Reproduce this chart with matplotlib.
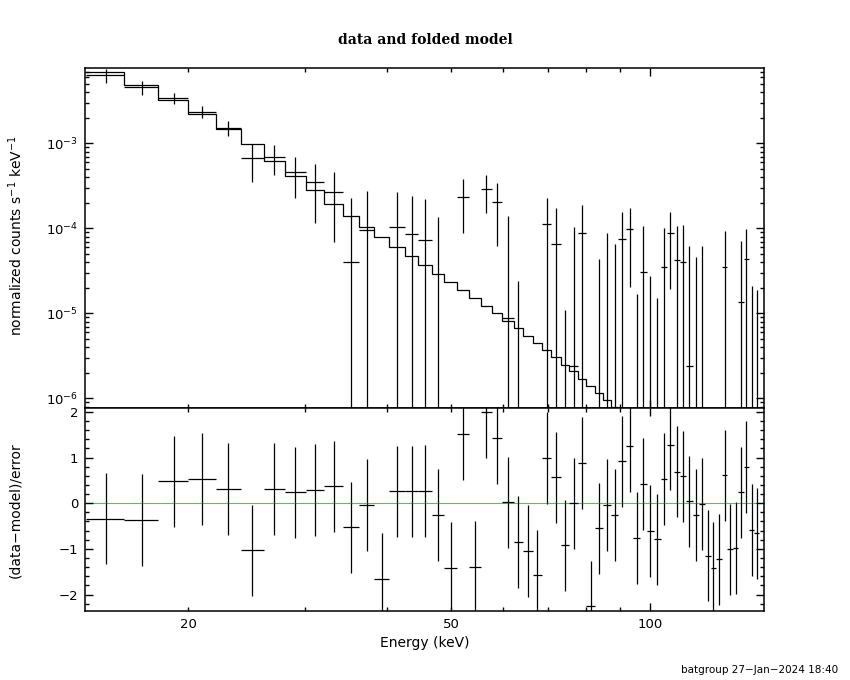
import matplotlib
matplotlib.use("Agg")
import matplotlib.pyplot as plt
import numpy as np
from matplotlib.ticker import FixedLocator, LogLocator, FuncFormatter, MultipleLocator, NullFormatter

# energy bin edges (keV)
edges = [14.0, 16.0, 18.0, 20.0, 22.0, 24.0, 26.0, 28.0, 30.1, 32.1, 34.3, 36.3,
         38.2, 40.3, 42.5, 44.6, 46.8, 48.8, 51.1, 53.3, 55.4, 57.6, 59.8, 62.2,
         64.2, 66.4, 68.6, 70.9, 73.3, 75.5, 77.8, 80.1, 82.5, 84.8, 87.2, 89.6,
         92.0, 94.3, 96.6, 98.9, 101.3, 103.8, 106.2, 108.6, 111.0, 113.5, 116.0,
         118.5, 121.0, 123.5, 126.0, 128.5, 131.0, 133.5, 136.0, 138.6, 141.2,
         143.8, 146.4]

# normalized counts s^-1 keV^-1
rate = [6.3e-3, 4.56e-3, 3.44e-3, 2.36e-3, 1.53e-3, 6.65e-4, 6.97e-4, 4.55e-4,
        3.47e-4, 2.65e-4, 3.98e-5, 9.57e-5, -2.2e-4, 1.03e-4, 8.57e-5, 7.22e-5,
        -9.9e-6, -1.83e-4, 2.33e-4, -1.8e-4, 2.9e-4, 2.02e-4, 8.89e-6, -1.0e-4,
        -1.25e-4, -1.8e-4, 1.14e-4, 6.53e-5, -9.2e-5, 2.4e-6, 8.73e-5, -2.3e-4,
        -5.0e-5, -2.3e-6, -2.2e-5, 7.48e-5, 9.73e-5, -5.26e-5, 3.03e-5, -4.35e-5,
        -5.7e-5, 3.48e-5, 8.73e-5, 4.21e-5, 4.02e-5, 2.4e-6, -1.66e-5, -1.4e-6,
        -7.4e-5, -8.8e-5, -7.5e-5, 3.48e-5, -6.0e-5, -5.8e-5, 1.35e-5, 4.32e-5,
        -2.9e-5, -3.4e-5]
rate_err = [1.15e-3, 0.87e-3, 0.52e-3, 0.37e-3, 0.31e-3, 3.1e-4, 2.7e-4, 2.3e-4,
            2.3e-4, 1.95e-4, 1.9e-4, 1.79e-4, 1.8e-4, 1.62e-4, 1.54e-4, 1.49e-4,
            1.47e-4, 1.45e-4, 1.45e-4, 1.4e-4, 1.4e-4, 1.4e-4, 1.31e-4, 1.24e-4,
            1.2e-4, 1.17e-4, 1.15e-4, 1.08e-4, 1.03e-4, 1.02e-4, 1.0e-4, 1.0e-4,
            9.35e-5, 9.0e-5, 8.75e-5, 7.9e-5, 7.7e-5, 6.93e-5, 7.5e-5, 7.1e-5,
            7.2e-5, 6.7e-5, 6.8e-5, 6.5e-5, 6.9e-5, 6.0e-5, 6.3e-5, 6.4e-5,
            6.4e-5, 6.2e-5, 6.1e-5, 5.8e-5, 5.9e-5, 5.7e-5, 5.75e-5, 5.5e-5,
            5.0e-5, 5.3e-5]
model = [6.84e-3, 4.85e-3, 3.2e-3, 2.21e-3, 1.47e-3, 9.72e-4, 6.25e-4, 4.08e-4,
         2.82e-4, 1.91e-4, 1.38e-4, 1.03e-4, 7.98e-5, 5.97e-5, 4.72e-5, 3.7e-5,
         2.88e-5, 2.33e-5, 1.88e-5, 1.51e-5, 1.22e-5, 1.0e-5, 8.11e-6, 6.65e-6,
         5.45e-6, 4.43e-6, 3.67e-6, 3.06e-6, 2.49e-6, 2.09e-6, 1.69e-6, 1.38e-6,
         1.15e-6, 9.47e-7, 7.97e-7, 6.6e-7, 5.5e-7, 4.6e-7, 3.8e-7, 3.2e-7,
         2.7e-7, 2.2e-7, 1.9e-7, 1.6e-7, 1.3e-7, 1.1e-7, 9e-8, 8e-8, 7e-8, 6e-8,
         5e-8, 4e-8, 3.5e-8, 3.2e-8, 3e-8, 2.5e-8, 2e-8, 1.8e-8]

# (data-model)/error
resid = [-0.34, -0.37, 0.48, 0.53, 0.31, -1.03, 0.31, 0.24, 0.29, 0.37, -0.53,
         -0.04, -1.66, 0.26, 0.26, 0.27, -0.26, -1.42, 1.51, -1.39, 1.99, 1.42,
         0.02, -0.85, -1.05, -1.58, 0.99, 0.57, -0.92, 0.0, 0.88, -2.26, -0.55,
         -0.04, -0.26, 0.92, 1.25, -0.76, 0.42, -0.61, -0.79, 0.53, 1.28, 0.69,
         0.59, 0.04, -0.26, -0.02, -1.15, -1.42, -1.23, 0.61, -1.01, -0.98, 0.24,
         0.79, -0.59, -0.66]

edges_a = np.array(edges)
centers = 0.5 * (edges_a[1:] + edges_a[:-1])
halfw = 0.5 * (edges_a[1:] - edges_a[:-1])

fig = plt.figure(figsize=(8.5, 6.8), dpi=100)
ax1 = fig.add_axes([0.1, 0.4, 0.799, 0.5])
ax2 = fig.add_axes([0.1, 0.1015, 0.799, 0.2985], sharex=ax1)

lw = 0.9
ax1.stairs(model, edges, baseline=None, color='black', lw=lw)
ax1.errorbar(centers, rate, xerr=halfw, yerr=rate_err, fmt='none',
             ecolor='black', elinewidth=lw, capsize=0)
ax1.set_xscale('log')
ax1.set_yscale('log')
ax1.set_xlim(13.95, 148.9)
ax1.set_ylim(7.7e-7, 7.7e-3)

ax2.axhline(0, color='#00ff00', lw=0.8, zorder=1)
ax2.errorbar(centers, resid, xerr=halfw, yerr=1.0, fmt='none',
             ecolor='black', elinewidth=lw, capsize=0, zorder=2)
ax2.set_ylim(-2.36, 2.085)
ax2.yaxis.set_major_locator(FixedLocator([-2, -1, 0, 1, 2]))
ax2.yaxis.set_minor_locator(MultipleLocator(0.2))

ax2.xaxis.set_major_locator(FixedLocator([10, 100]))
ax2.xaxis.set_minor_locator(LogLocator(base=10, subs=np.arange(2, 10)))
ax2.xaxis.set_major_formatter(FuncFormatter(lambda v, p: f"{v:g}"))
ax2.xaxis.set_minor_formatter(FuncFormatter(lambda v, p: f"{v:g}" if round(v) in (20, 50) else ""))

for ax in (ax1, ax2):
    ax.tick_params(which='both', direction='in', top=True, right=True, width=1.0,
                   labelsize=9.5, pad=5)
    ax.tick_params(which='major', length=5.5)
    ax.tick_params(which='minor', length=2.8)
    for s in ax.spines.values():
        s.set_linewidth(1.1)
ax1.tick_params(which='both', labelbottom=False)
ax1.yaxis.set_minor_formatter(NullFormatter())

fig.text(0.5, 1 - 40 / 680, 'data and folded model', ha='center', va='center',
         family='DejaVu Serif', fontweight='bold', fontsize=10)
fig.text(0.5, 1 - 643 / 680, 'Energy (keV)', ha='center', va='center', fontsize=10)
fig.text(0.018, 1 - 236 / 680, r'normalized counts s$^{-1}$ keV$^{-1}$',
         rotation=90, ha='center', va='center', fontsize=10)
fig.text(0.018, 1 - 510 / 680, '(data\u2212model)/error', rotation=90,
         ha='center', va='center', fontsize=10)
fig.text(0.986, 1 - 670 / 680, 'batgroup 27\u2212Jan\u22122024 18:40', ha='right',
         va='center', fontsize=7.5)

fig.savefig('out.png', dpi=100)
